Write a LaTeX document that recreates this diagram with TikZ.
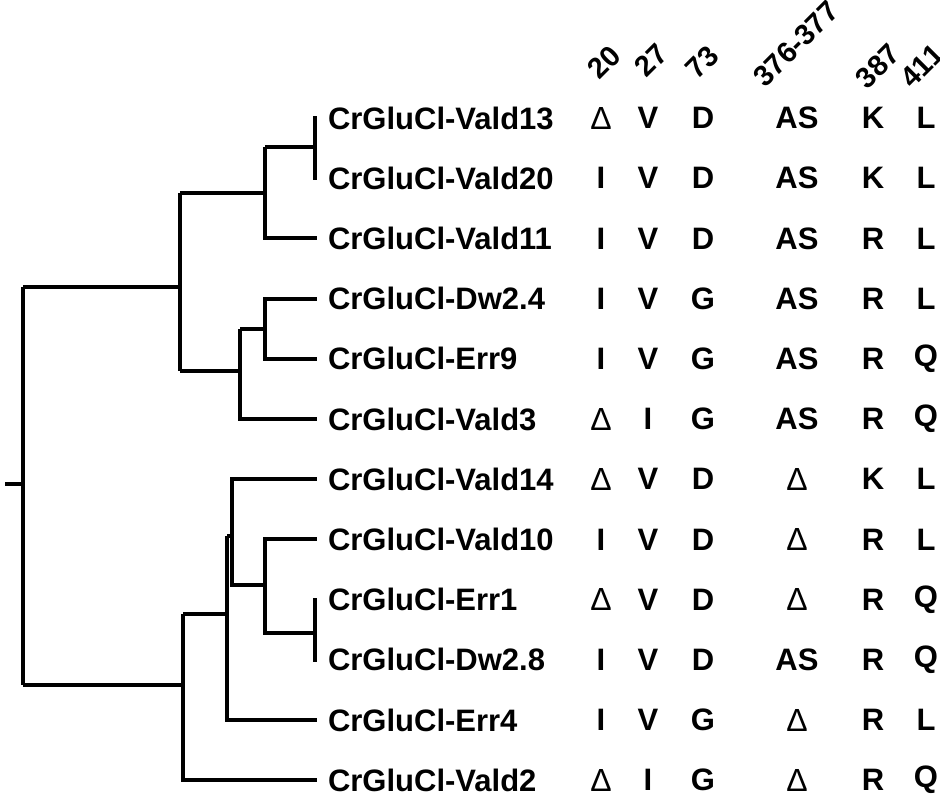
\documentclass[tikz,border=0pt]{standalone}
\usepackage{fontspec}
\setmainfont{Liberation Sans}
\begin{document}
\begin{tikzpicture}[x=1pt,y=-1pt,line width=4pt,
 br/.style={line cap=rect},
 lab/.style={anchor=west,inner sep=0pt,font=\fontsize{31}{36}\selectfont\bfseries},
 cell/.style={anchor=center,inner sep=0pt,font=\fontsize{31}{36}\selectfont\bfseries},
 hd/.style={anchor=center,inner sep=0pt,rotate=45,font=\fontsize{29}{34}\selectfont\bfseries}]
\useasboundingbox (0,0) rectangle (940,800);
% leaves
\def\names{CrGluCl-Vald13,CrGluCl-Vald20,CrGluCl-Vald11,CrGluCl-Dw2.4,CrGluCl-Err9,CrGluCl-Vald3,CrGluCl-Vald14,CrGluCl-Vald10,CrGluCl-Err1,CrGluCl-Dw2.8,CrGluCl-Err4,CrGluCl-Vald2}
\foreach \n [count=\i] in \names {
  \pgfmathsetmacro\yy{118+60.2*(\i-1)}
  \node[lab] (L\i) at (326,\yy) {\n};
  \coordinate (E\i) at (317,\yy);
}
% columns
\newcommand\rowd[7]{%
 \pgfmathsetmacro\yy{118+60.2*(#1-1)}%
 \node[cell] (a#1) at (601,\yy) {#2};
 \node[cell] (b#1) at (648,\yy) {#3};
 \node[cell] (c#1) at (703,\yy) {#4};
 \node[cell] (d#1) at (797,\yy) {#5};
 \node[cell] (e#1) at (873,\yy) {#6};
 \node[cell] (f#1) at (926,\yy) {#7};}
\newcommand\del{{\mdseries\fontsize{32}{34}\selectfont Δ}}
\rowd{1}{\del}{V}{D}{AS}{K}{L}
\rowd{2}{I}{V}{D}{AS}{K}{L}
\rowd{3}{I}{V}{D}{AS}{R}{L}
\rowd{4}{I}{V}{G}{AS}{R}{L}
\rowd{5}{I}{V}{G}{AS}{R}{Q}
\rowd{6}{\del}{I}{G}{AS}{R}{Q}
\rowd{7}{\del}{V}{D}{\del}{K}{L}
\rowd{8}{I}{V}{D}{\del}{R}{L}
\rowd{9}{\del}{V}{D}{\del}{R}{Q}
\rowd{10}{I}{V}{D}{AS}{R}{Q}
\rowd{11}{I}{V}{G}{\del}{R}{L}
\rowd{12}{\del}{I}{G}{\del}{R}{Q}
% headers
\node[hd] (h1) at (604,62) {20};
\node[hd] (h2) at (651,60) {27};
\node[hd] (h3) at (702,62) {73};
\node[hd] (h4) at (796,44) {376-377};
\node[hd] (h5) at (878,66) {387};
\node[hd] (h6) at (922,66) {411};
% tree
\draw[br] (7,484) -- (23,484);
\draw (23,287) -- (23,685);
\draw (23,287) -- (180,287);
\draw (23,685) -- (183,685);
% upper clade
\draw (180,193) -- (180,371);
\draw (180,193) -- (265,193);
\draw (265,147) |- (E3);
\draw (265,147) -- (315,147);
\draw (180,371) -- (240,371);
\draw (240,329) |- (E6);
\draw (240,329) -- (265,329);
\draw (265,329) |- (E4);
\draw (265,329) |- (E5);
% lower clade
\draw (183,614) |- (E12);
\draw (183,614) -- (227,614);
\draw (227,536) |- (E11);
\draw (227,536) -- (232,536);
\draw (232,536) |- (E7);
\draw (232,536) |- (265,585);
\draw (265,585) |- (E8);
\draw (265,585) |- (315,633);
\draw (315,633) |- (E9);
\draw (315,633) |- (E10);
\draw (315,147) |- (E1);
\draw (315,147) |- (E2);
\end{tikzpicture}
\end{document}
